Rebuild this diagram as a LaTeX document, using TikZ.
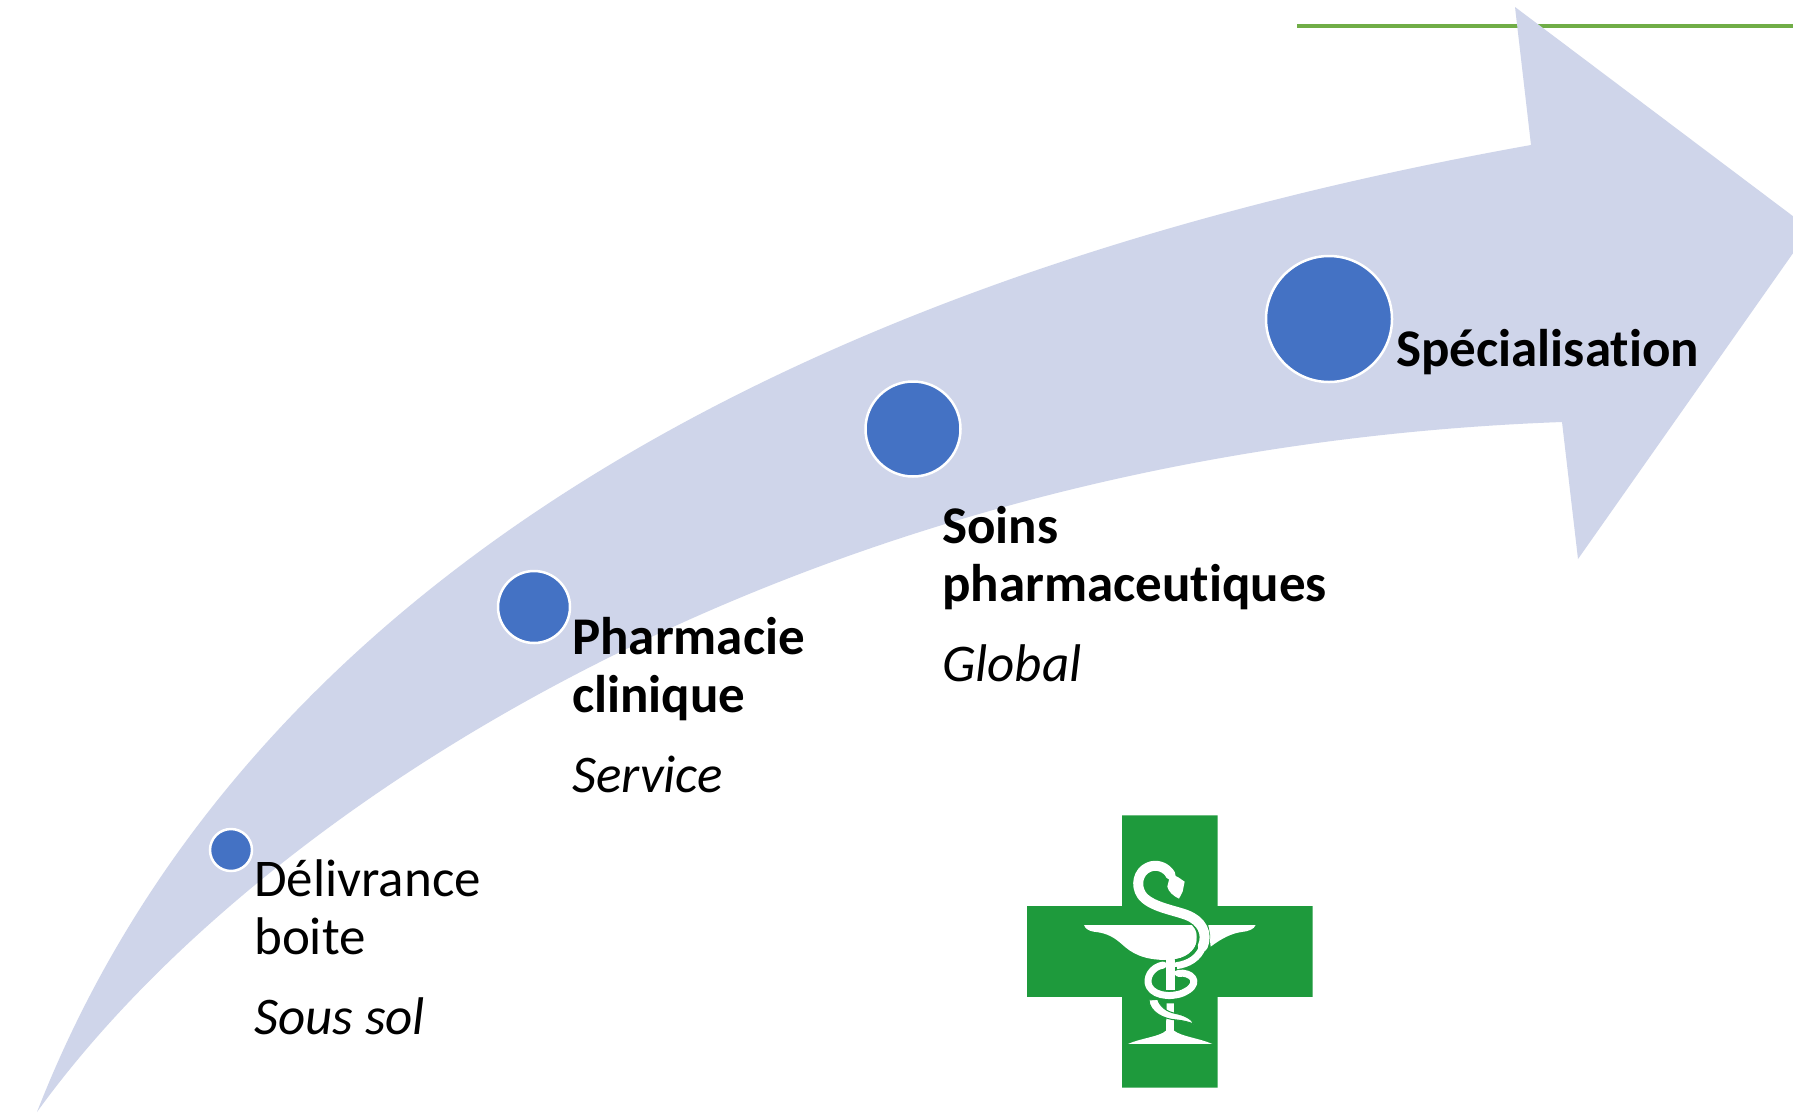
\documentclass[tikz,border=0pt]{standalone}
\usepackage{fontspec}
\setmainfont[Ligatures=NoCommon]{Carlito}
\definecolor{arrowfill}{HTML}{CFD5EA}
\definecolor{dotblue}{HTML}{4472C4}
\definecolor{linegreen}{HTML}{70AD47}
\definecolor{crossgreen}{HTML}{1E9A3C}
\tikzset{
  dot/.style={circle,fill=dotblue,draw=white,line width=2.5pt,inner sep=0pt},
  label/.style={anchor=north west,inner sep=0pt,align=left,text=black,font=\fontsize{53}{58}\selectfont},
  snake/.style={draw=white,line cap=round,line join=round},
  halo/.style={draw=crossgreen,line cap=butt},
}
\newcommand{\topstrut}{\rule{0pt}{40pt}}
\begin{document}
\begin{tikzpicture}[x=1pt,y=-1pt]
\path[use as bounding box,fill=white] (0,0) rectangle (1793,1114);
\clip (0,0) rectangle (1793,1114);
\coordinate (ruleL) at (1297,26);
\coordinate (ruleR) at (1793,26);
\draw[linegreen,line width=4pt] (ruleL) -- (ruleR);
\fill[arrowfill] (37,1112)
  .. controls (225,630) and (720,290) .. (1531,145)
  -- (1515,7) -- (1810,229) -- (1578,559) -- (1562,422)
  .. controls (800,450) and (255,810) .. (37,1112) -- cycle;
\node[dot,minimum size=42pt] (d1) at (231,850) {};
\node[dot,minimum size=72pt] (d2) at (534,607) {};
\node[dot,minimum size=95pt] (d3) at (913,429) {};
\node[dot,minimum size=126pt] (d4) at (1329,319) {};
\node[label] (t1) at (254,856) {\topstrut Délivrance\\boite\\[22pt]\textit{Sous sol}};
\node[label] (t2) at (572,614) {\topstrut\textbf{Pharmacie}\\\textbf{clinique}\\[22pt]\textit{Service}};
\node[label] (t3) at (942,503) {\topstrut\textbf{Soins}\\\textbf{pharmaceutiques}\\[22pt]\textit{Global}};
\node[label] (t4) at (1396,326) {\topstrut\textbf{Spécialisation}};
\begin{scope}[shift={(1000,790)},x=0.3333pt,y=-0.3333pt]
  \fill[crossgreen] (366,76) -- (653,76) -- (653,348) -- (938,348) -- (938,621) -- (653,621)
    -- (653,893) -- (366,893) -- (366,621) -- (81,621) -- (81,348) -- (366,348) -- cycle;
  % bowl
  \fill[white] (252,405) -- (590,405) -- (590,460)
    .. controls (575,495) and (540,510) .. (500,510)
    .. controls (430,510) and (395,490) .. (365,462)
    .. controls (335,435) and (310,428) .. (280,425)
    .. controls (265,422) and (255,415) .. (252,405) -- cycle;
  \fill[white] (625,405) -- (767,405)
    .. controls (762,418) and (745,424) .. (725,426)
    .. controls (695,430) and (665,445) .. (632,470) -- cycle;
  % stem and foot
  \fill[white] (497,505) -- (525,505) -- (525,600) -- (497,600) -- cycle;
  \fill[white] (500,640) -- (522,640) -- (522,722)
    .. controls (545,740) and (600,745) .. (637,762) -- (384,762)
    .. controls (420,745) and (480,740) .. (498,722) -- cycle;
  % snake upper part
  \draw[halo,line width=13pt] (540,365) .. controls (600,380) and (622,425) .. (606,470)
    .. controls (595,505) and (565,522) .. (528,527);
  \draw[snake,line width=10pt] (512,255) .. controls (500,232) and (470,220) .. (445,232)
    .. controls (415,245) and (405,285) .. (425,315)
    .. controls (450,350) and (520,360) .. (560,375)
    .. controls (605,392) and (625,430) .. (608,470);
  \draw[snake,line width=7pt] (608,470) .. controls (596,505) and (565,522) .. (530,527);
  % head
  \fill[white] (512,250) -- (535,262) -- (554,275) -- (548,305) -- (537,326)
    .. controls (520,318) and (505,305) .. (502,290) -- cycle;
  % coil
  \draw[crossgreen,line width=2pt] (494,510) -- (494,600);
  \draw[crossgreen,line width=2pt] (528,530) -- (528,600);
  \draw[halo,line width=9pt] (545,555) .. controls (590,570) and (585,610) .. (520,615);
  \draw[snake,line width=7pt] (490,525) .. controls (455,530) and (435,565) .. (448,590)
    .. controls (465,622) and (530,625) .. (565,600)
    .. controls (600,575) and (575,545) .. (535,550);
  \draw[snake,line width=4pt] (535,550) -- (510,547);
  \draw[crossgreen,line width=1pt] (473,580) .. controls (478,570) and (485,567) .. (492,568);
  % tail
  \filldraw[fill=white,draw=crossgreen,line width=1pt] (447,630)
    .. controls (448,665) and (490,688) .. (530,690)
    .. controls (550,692) and (570,697) .. (582,703)
    .. controls (575,685) and (550,675) .. (525,670)
    .. controls (500,665) and (480,650) .. (473,628) -- cycle;
\end{scope}
\end{tikzpicture}
\end{document}
